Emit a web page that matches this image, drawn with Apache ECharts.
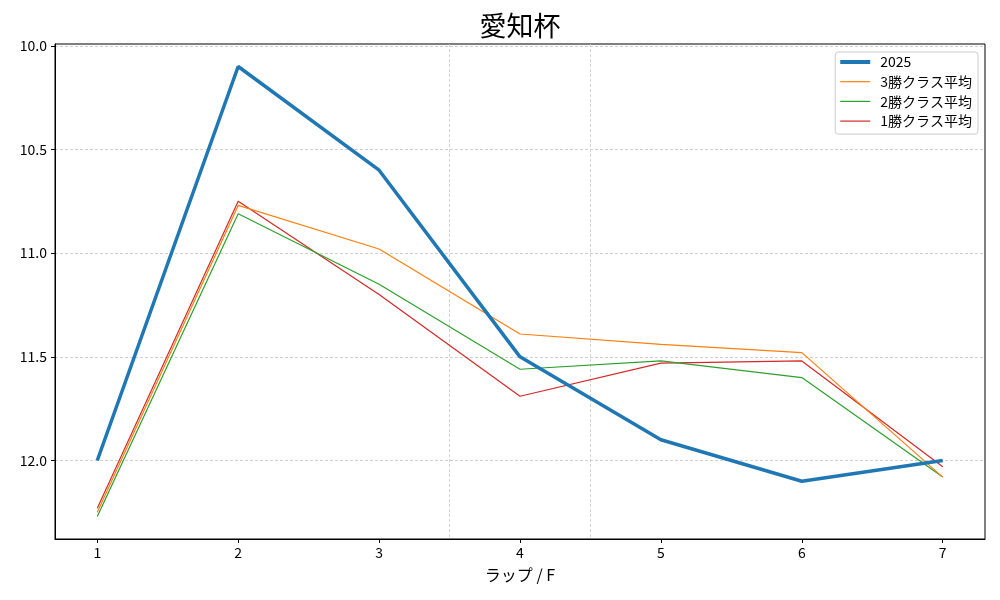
<!DOCTYPE html>
<html><head><meta charset="utf-8">
<script src="https://cdn.jsdelivr.net/npm/echarts@6/dist/echarts.min.js"></script>
<style>html,body{margin:0;padding:0;background:#fff}#c{width:1000px;height:600px}</style>
</head><body><div id="c"></div>
<script>
const laps = [1, 2, 3, 4, 5, 6, 7];
const s2025 = [12.0, 10.1, 10.6, 11.5, 11.9, 12.1, 12.0];
const s3win = [12.25, 10.77, 10.98, 11.39, 11.44, 11.48, 12.08];
const s2win = [12.27, 10.81, 11.15, 11.56, 11.52, 11.60, 12.08];
const s1win = [12.23, 10.75, 11.20, 11.69, 11.53, 11.52, 12.03];
const xTicks = [1, 2, 3, 4, 5, 6, 7];
const yTicks = [10.0, 10.5, 11.0, 11.5, 12.0];
const sectionLines = [3.5, 4.5];
const names = ['2025', '3勝クラス平均', '2勝クラス平均', '1勝クラス平均'];

const FONT = '"Noto Sans CJK JP", "DejaVu Sans", sans-serif';
const pairs = arr => laps.map((x, i) => [x, arr[i]]);
const colors = ['#1f77b4', '#ff7f0e', '#2ca02c', '#d62728'];
const widths = [3.5, 1.2, 1.2, 1.2];
const allSeries = [s2025, s3win, s2win, s1win];

const series = allSeries.map((arr, i) => ({
  name: names[i], type: 'line', data: pairs(arr), symbol: 'none', z: 10 - i,
  lineStyle: { color: colors[i], width: widths[i] }, itemStyle: { color: colors[i] },
  animation: false
}));
series[0].z = 20;
series[0].markLine = {
  silent: true, symbol: 'none', label: { show: false }, animation: false,
  lineStyle: { color: '#c8c8c8', width: 0.8, type: [3, 2] },
  data: sectionLines.map(v => ({ xAxis: v }))
};

const chart = echarts.init(document.getElementById('c'));
chart.setOption({
  animation: false,
  title: { text: '愛知杯', left: 515, textAlign: 'center', top: 7, textStyle: { fontFamily: FONT, fontSize: 27, fontWeight: 'normal', color: '#000' } },
  grid: { left: 55, right: 15, top: 44, bottom: 61, show: true, borderColor: '#000', borderWidth: 1, backgroundColor: 'transparent' },
  legend: {
    orient: 'vertical', right: 22, top: 52,
    data: names.map((n, i) => ({ name: n, icon: i === 0 ? 'path://M0,0h30v4h-30z' : 'path://M0,0h30v1.2h-30z' })),
    itemWidth: 30, itemHeight: 14, itemGap: 5.7,
    padding: [3, 6, 6, 5],
    borderColor: '#cccccc', borderWidth: 1, borderRadius: 3, backgroundColor: 'rgba(255,255,255,0.8)',
    textStyle: { fontFamily: FONT, fontSize: 14, color: '#000', padding: [0, 0, 0, 5] }
  },
  xAxis: {
    type: 'value', min: 0.7, max: 7.3,
    name: 'ラップ / F', nameLocation: 'middle', nameGap: 28,
    nameTextStyle: { fontFamily: FONT, fontSize: 16, color: '#000' },
    axisLine: { show: true, onZero: false, lineStyle: { color: '#000', width: 1 } },
    axisTick: { show: true, length: 4, lineStyle: { color: '#000' }, customValues: xTicks },
    axisLabel: { fontFamily: FONT, fontSize: 14, color: '#000', margin: 7, customValues: xTicks },
    splitLine: { show: false }
  },
  yAxis: {
    type: 'value', inverse: true, min: 9.9915, max: 12.3785,
    axisLine: { show: true, lineStyle: { color: '#000', width: 1 } },
    axisTick: { show: true, length: 4, lineStyle: { color: '#000' }, customValues: yTicks },
    axisLabel: { fontFamily: FONT, fontSize: 14, color: '#000', margin: 8, customValues: yTicks, formatter: v => v.toFixed(1) },
    splitLine: { show: true, lineStyle: { color: '#b0b0b0', width: 0.6, type: [3, 2] } }
  },
  series: series
});
</script></body></html>
